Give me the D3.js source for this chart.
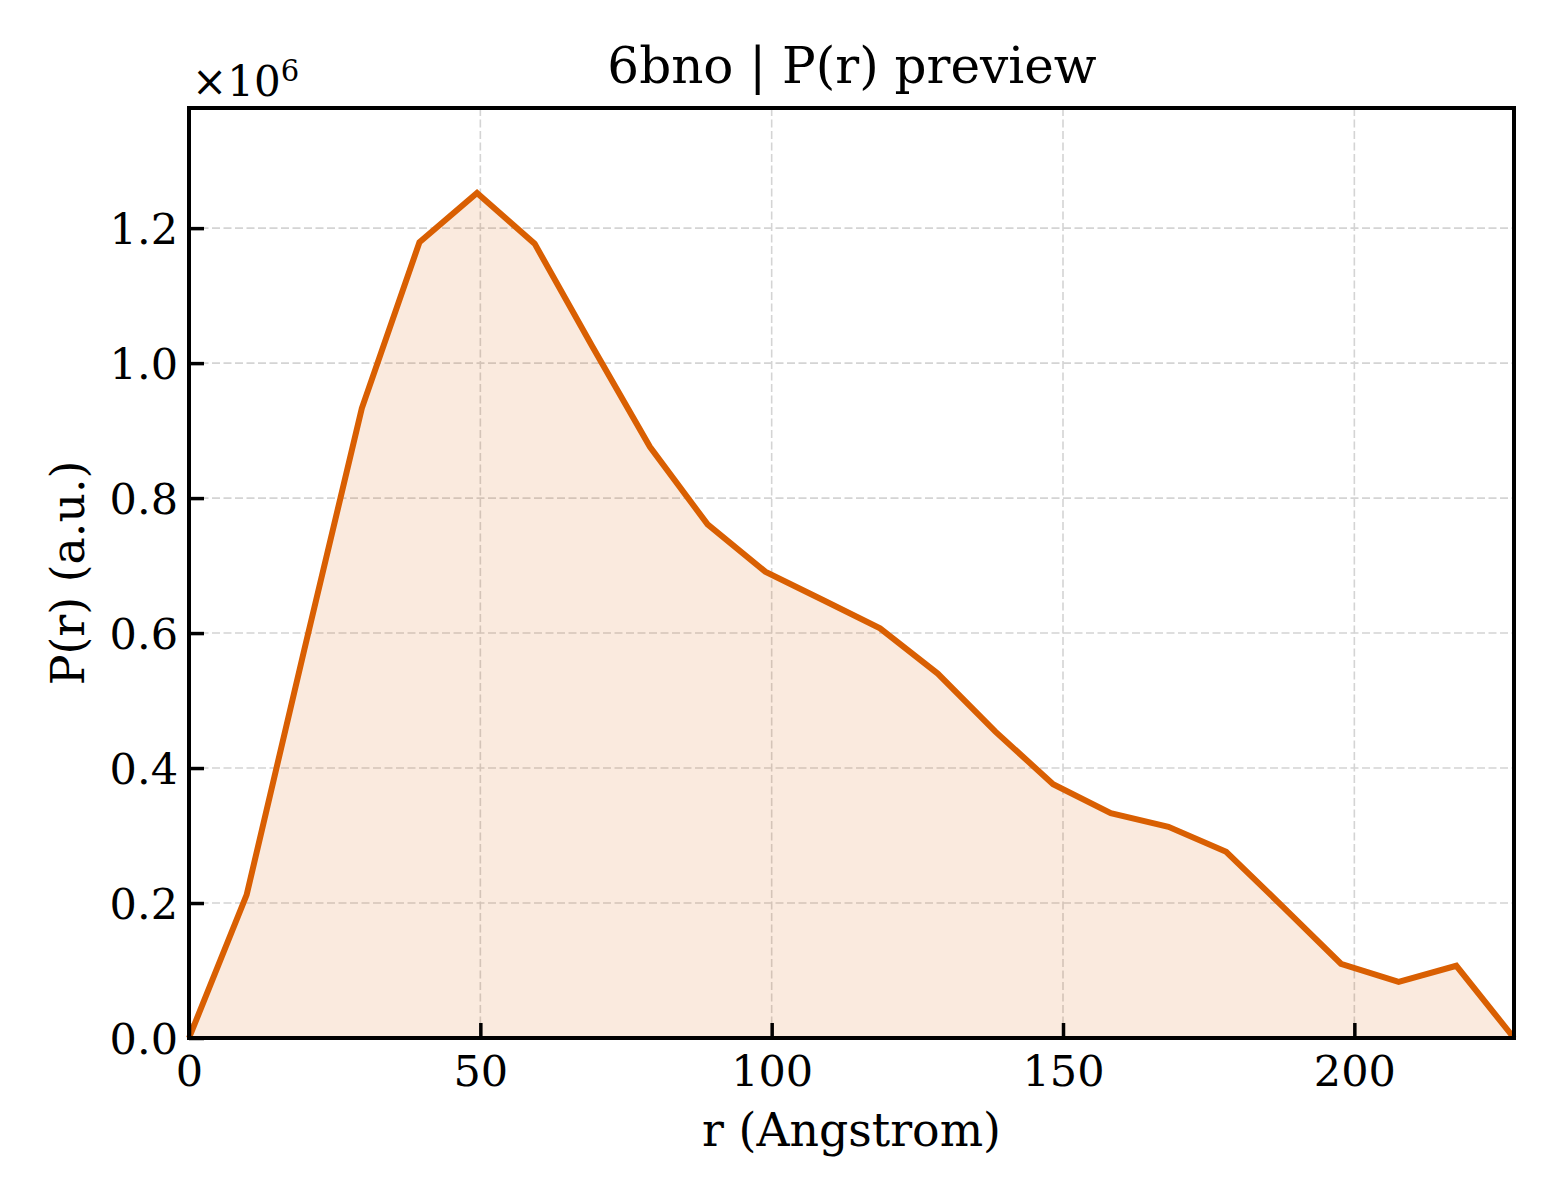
<!DOCTYPE html>
<html>
<head>
<meta charset="utf-8">
<script src="https://cdn.jsdelivr.net/npm/d3@7/dist/d3.min.js"></script>
<style>
  html, body { margin: 0; padding: 0; background: #fff; }
  svg { display: block; }
  text { font-family: "DejaVu Serif", serif; fill: #000; }
</style>
</head>
<body>
<svg id="chart" width="1560" height="1200"></svg>
<script>
// ---- data ----
const rValues = [0, 9.89, 19.78, 29.66, 39.55, 49.43, 59.32, 69.2, 79.1, 89.0, 98.9, 108.8,
                 118.6, 128.5, 138.4, 148.3, 158.2, 168.1, 178.0, 187.8, 197.7, 207.6, 217.5, 227.4];
const pValues = [0, 0.212, 0.575, 0.933, 1.179, 1.252, 1.177, 1.025, 0.876, 0.761, 0.691, 0.649,
                 0.607, 0.540, 0.454, 0.376, 0.333, 0.313, 0.276, 0.194, 0.110, 0.083, 0.107, 0.0]; // x 1e6
const xTicks = [0, 50, 100, 150, 200];
const yTicks = [0.0, 0.2, 0.4, 0.6, 0.8, 1.0, 1.2];
const titleText = "6bno | P(r) preview";
const xLabelText = "r (Angstrom)";
const yLabelText = "P(r) (a.u.)";

// ---- layout ----
const svg = d3.select("#chart");
const L = 189, T = 108, R = 1514, B = 1038;
const x = d3.scaleLinear().domain([0, 227.4]).range([L, R]);
const y = d3.scaleLinear().domain([0, 1.378]).range([B, T]);
const color = "#d95f02";

const data = rValues.map((r, i) => ({ r, p: pValues[i] }));

// grid
const grid = svg.append("g");
grid.selectAll("line.gx").data(xTicks).join("line")
  .attr("x1", d => x(d)).attr("x2", d => x(d)).attr("y1", T).attr("y2", B)
  .attr("stroke", "#d4d4d4").attr("stroke-width", 1.6).attr("stroke-dasharray", "8,3.5");
grid.selectAll("line.gy").data(yTicks).join("line")
  .attr("y1", d => y(d)).attr("y2", d => y(d)).attr("x1", L).attr("x2", R)
  .attr("stroke", "#d4d4d4").attr("stroke-width", 1.6).attr("stroke-dasharray", "8,3.5");

// area fill
svg.append("path").datum(data)
  .attr("d", d3.area().x(d => x(d.r)).y0(y(0)).y1(d => y(d.p)))
  .attr("fill", color).attr("fill-opacity", 0.13);

// line
svg.append("path").datum(data)
  .attr("d", d3.line().x(d => x(d.r)).y(d => y(d.p)))
  .attr("fill", "none").attr("stroke", color).attr("stroke-width", 6)
  .attr("stroke-linejoin", "miter").attr("stroke-linecap", "butt");

// axes (inward ticks)
const xAxis = d3.axisBottom(x).tickValues(xTicks).tickSize(-15).tickPadding(17).tickFormat(d3.format("d"));
const yAxis = d3.axisLeft(y).tickValues(yTicks).tickSize(-15).tickPadding(11).tickFormat(d3.format(".1f"));

const gx = svg.append("g").attr("transform", `translate(0,${B})`).call(xAxis);
const gy = svg.append("g").attr("transform", `translate(${L},0)`).call(yAxis);
[gx, gy].forEach(g => {
  g.select(".domain").remove();
  g.selectAll(".tick line").attr("stroke", "#000").attr("stroke-width", 3.5);
  g.selectAll(".tick text").attr("font-family", "DejaVu Serif, serif").attr("font-size", 43).attr("fill", "#000");
});
gx.selectAll(".tick text").attr("dy", "0.71em");
gy.selectAll(".tick text").attr("dy", "0.36em");

// frame
svg.append("rect").attr("x", L).attr("y", T).attr("width", R - L).attr("height", B - T)
  .attr("fill", "none").attr("stroke", "#000").attr("stroke-width", 4);

// offset label ×10^6
const off = svg.append("text").attr("x", 192).attr("y", 95.5).attr("font-size", 42);
off.append("tspan").text("×10");
off.append("tspan").attr("font-size", 29).attr("dy", -15).text("6");

// title
svg.append("text").attr("x", 852).attr("y", 83).attr("text-anchor", "middle")
  .attr("font-size", 50).text(titleText);

// axis labels
svg.append("text").attr("x", (L + R) / 2).attr("y", 1146).attr("text-anchor", "middle")
  .attr("font-size", 45.8).text(xLabelText);
svg.append("text").attr("transform", `translate(84,${(T + B) / 2}) rotate(-90)`)
  .attr("text-anchor", "middle").attr("font-size", 45.8).text(yLabelText);
</script>
</body>
</html>
